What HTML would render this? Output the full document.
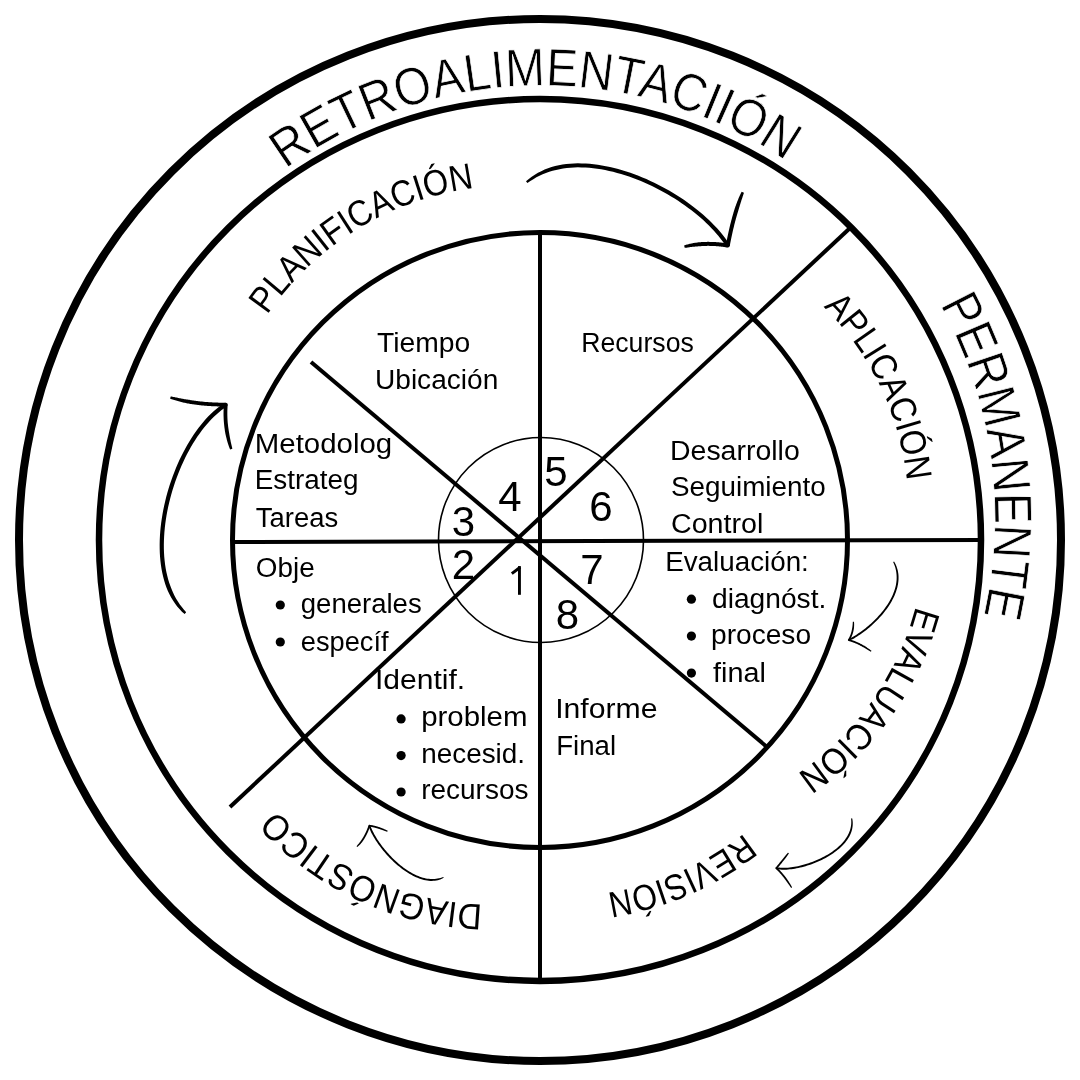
<!DOCTYPE html>
<html><head><meta charset="utf-8"><style>
html,body{margin:0;padding:0;background:#fff;width:1080px;height:1080px;overflow:hidden;}
svg{display:block;will-change:transform;}
#c0,#c1{stroke:#fff;stroke-width:0.7px;}
svg{font-family:"Liberation Sans",sans-serif;}
</style></head><body>
<svg width="1080" height="1080" viewBox="0 0 1080 1080" font-family="Liberation Sans, sans-serif" fill="#000">
<defs><path id="cp0" d="M285.58,169.22 A433.3,433.3 0 0 1 797.62,868.38 A433.3,433.3 0 0 1 285.58,169.22"/><path id="cp1" d="M939.90,304.60 A440.1,440.1 0 0 1 170.10,731.40 A440.1,440.1 0 0 1 939.90,304.60"/><path id="cp2" d="M267.23,315.01 A297,297 0 0 1 757.77,649.99 A297,297 0 0 1 267.23,315.01"/><path id="cp3" d="M823.37,306.92 A286.7,286.7 0 0 1 420.23,714.68 A286.7,286.7 0 0 1 823.37,306.92"/><path id="cp4" d="M915.89,606.37 A292.5,292.5 0 0 1 350.11,457.63 A292.5,292.5 0 0 1 915.89,606.37"/><path id="cp5" d="M743.91,833.45 A294.8,294.8 0 0 1 378.49,370.75 A294.8,294.8 0 0 1 743.91,833.45"/><path id="cp6" d="M482.32,904.39 A289.7,289.7 0 0 1 498.28,325.21 A289.7,289.7 0 0 1 482.32,904.39"/></defs>
<text id="c0" font-size="53" textLength="533.3" lengthAdjust="spacingAndGlyphs"><textPath href="#cp0">RETROALIMENTACIIÓN</textPath></text>
<text id="c1" font-size="53" textLength="321.2" lengthAdjust="spacingAndGlyphs"><textPath href="#cp1">PERMANENTE</textPath></text>
<text id="c2" font-size="36.5" textLength="250.1" lengthAdjust="spacingAndGlyphs"><textPath href="#cp2">PLANIFICACIÓN</textPath></text>
<text id="c3" font-size="36.5" textLength="196.9" lengthAdjust="spacingAndGlyphs"><textPath href="#cp3">APLICACIÓN</textPath></text>
<text id="c4" font-size="36.5" textLength="210.1" lengthAdjust="spacingAndGlyphs"><textPath href="#cp4">EVALUACIÓN</textPath></text>
<text id="c5" font-size="36.5" textLength="150.9" lengthAdjust="spacingAndGlyphs"><textPath href="#cp5">REVISIÓN</textPath></text>
<text id="c6" font-size="36.5" textLength="233.2" lengthAdjust="spacingAndGlyphs"><textPath href="#cp6">DIAGNÓSTICO</textPath></text>
<circle cx="540" cy="540" r="521" fill="none" stroke="#000" stroke-width="8"/>
<circle cx="540" cy="540" r="441" fill="none" stroke="#000" stroke-width="6.5"/>
<circle cx="540" cy="540" r="307.5" fill="none" stroke="#000" stroke-width="5"/>
<circle cx="541" cy="540" r="102.5" fill="none" stroke="#000" stroke-width="1.6"/>
<line x1="540" y1="231" x2="540" y2="984" stroke="#000" stroke-width="4"/>
<line x1="232" y1="542" x2="984" y2="540" stroke="#000" stroke-width="4"/>
<line x1="849" y1="229" x2="230" y2="807" stroke="#000" stroke-width="4"/>
<line x1="311" y1="362" x2="767" y2="747" stroke="#000" stroke-width="4"/>
<text x="556" y="485.6" font-size="42" text-anchor="middle">5</text>
<text x="510" y="511" font-size="42" text-anchor="middle">4</text>
<text x="601" y="521" font-size="42" text-anchor="middle">6</text>
<text x="463.5" y="535.6" font-size="42" text-anchor="middle">3</text>
<text x="463.5" y="579" font-size="42" text-anchor="middle">2</text>
<text x="592" y="584" font-size="42" text-anchor="middle">7</text>
<text x="567.5" y="629" font-size="42" text-anchor="middle">8</text>
<rect x="518" y="566.1" width="2.9" height="28.7"/><path d="M520.2,567.2 L511.8,573.6" stroke="#000" stroke-width="3" fill="none"/>
<text id="h0" x="377.00" y="352.2" font-size="27" textLength="93.23" lengthAdjust="spacingAndGlyphs">Tiempo</text>
<text id="h1" x="375.00" y="389" font-size="27" textLength="123.26" lengthAdjust="spacingAndGlyphs">Ubicación</text>
<text id="h2" x="581.20" y="352.2" font-size="27" textLength="112.61" lengthAdjust="spacingAndGlyphs">Recursos</text>
<text id="h3" x="254.80" y="453" font-size="27" textLength="137.36" lengthAdjust="spacingAndGlyphs">Metodolog</text>
<text id="h4" x="254.80" y="489" font-size="27" textLength="103.68" lengthAdjust="spacingAndGlyphs">Estrateg</text>
<text id="h5" x="255.80" y="526.7" font-size="27" textLength="82.36" lengthAdjust="spacingAndGlyphs">Tareas</text>
<text id="h6" x="670.00" y="460" font-size="27" textLength="129.71" lengthAdjust="spacingAndGlyphs">Desarrollo</text>
<text id="h7" x="671.00" y="496.3" font-size="27" textLength="154.68" lengthAdjust="spacingAndGlyphs">Seguimiento</text>
<text id="h8" x="671.00" y="533.1" font-size="27" textLength="92.33" lengthAdjust="spacingAndGlyphs">Control</text>
<text id="h9" x="255.80" y="576.9" font-size="27" textLength="58.83" lengthAdjust="spacingAndGlyphs">Obje</text>
<text id="h10" x="300.80" y="613.1" font-size="27" textLength="120.86" lengthAdjust="spacingAndGlyphs">generales</text>
<text id="h11" x="300.80" y="650.6" font-size="27" textLength="87.77" lengthAdjust="spacingAndGlyphs">específ</text>
<text id="h12" x="375.00" y="689.4" font-size="27" textLength="90.14" lengthAdjust="spacingAndGlyphs">Identif.</text>
<text id="h13" x="421.20" y="725.6" font-size="27" textLength="106.28" lengthAdjust="spacingAndGlyphs">problem</text>
<text id="h14" x="421.20" y="763" font-size="27" textLength="103.85" lengthAdjust="spacingAndGlyphs">necesid.</text>
<text id="h15" x="421.20" y="799.2" font-size="27" textLength="107.23" lengthAdjust="spacingAndGlyphs">recursos</text>
<text id="h16" x="665.20" y="570.6" font-size="27" textLength="143.63" lengthAdjust="spacingAndGlyphs">Evaluación:</text>
<text id="h17" x="712.00" y="608" font-size="27" textLength="114.35" lengthAdjust="spacingAndGlyphs">diagnóst.</text>
<text id="h18" x="711.00" y="644.2" font-size="27" textLength="100.09" lengthAdjust="spacingAndGlyphs">proceso</text>
<text id="h19" x="713.00" y="681.7" font-size="27" textLength="52.84" lengthAdjust="spacingAndGlyphs">final</text>
<text id="h20" x="555.20" y="718.3" font-size="27" textLength="102.37" lengthAdjust="spacingAndGlyphs">Informe</text>
<text id="h21" x="556.20" y="755.3" font-size="27" textLength="59.92" lengthAdjust="spacingAndGlyphs">Final</text>
<circle cx="280.3" cy="605.0" r="4.6"/>
<circle cx="280.3" cy="642.0" r="4.6"/>
<circle cx="401.1" cy="718.9" r="4.6"/>
<circle cx="401.1" cy="755.6" r="4.6"/>
<circle cx="401.1" cy="792.0" r="4.6"/>
<circle cx="691.4" cy="599.2" r="4.6"/>
<circle cx="691.4" cy="636.1" r="4.6"/>
<circle cx="691.4" cy="673.1" r="4.6"/>
<path d="M527.40,183.05 L530.37,181.05 L533.34,179.13 L536.39,177.36 L539.50,175.75 L542.68,174.30 L545.94,172.99 L549.26,171.84 L552.64,170.84 L556.08,169.97 L559.58,169.19 L563.13,168.55 L566.75,168.06 L570.41,167.69 L574.13,167.46 L577.89,167.36 L581.69,167.39 L585.53,167.54 L589.40,167.81 L593.30,168.21 L597.23,168.71 L601.17,169.33 L605.14,170.06 L609.11,170.90 L613.10,171.84 L617.09,172.89 L621.08,174.03 L625.06,175.26 L629.04,176.59 L633.00,178.01 L636.95,179.51 L640.88,181.10 L644.79,182.77 L648.66,184.51 L652.50,186.33 L656.31,188.22 L660.08,190.17 L663.80,192.20 L667.47,194.28 L671.09,196.42 L674.65,198.62 L678.15,200.87 L681.59,203.16 L684.96,205.51 L688.25,207.89 L691.46,210.32 L694.60,212.78 L697.65,215.28 L700.61,217.81 L703.47,220.36 L706.24,222.94 L708.91,225.54 L711.47,228.15 L713.92,230.78 L716.26,233.42 L718.48,236.07 L720.58,238.72 L722.55,241.37 L724.39,244.02 L726.10,246.66 L729.50,244.54 L727.71,241.79 L725.80,239.03 L723.75,236.28 L721.58,233.54 L719.29,230.81 L716.88,228.09 L714.36,225.39 L711.73,222.71 L709.00,220.04 L706.17,217.40 L703.24,214.79 L700.21,212.21 L697.10,209.66 L693.90,207.15 L690.63,204.68 L687.27,202.25 L683.84,199.86 L680.35,197.52 L676.78,195.23 L673.16,193.00 L669.48,190.82 L665.74,188.70 L661.95,186.64 L658.12,184.65 L654.25,182.73 L650.34,180.88 L646.39,179.10 L642.42,177.41 L638.41,175.79 L634.39,174.26 L630.35,172.81 L626.29,171.46 L622.22,170.19 L618.14,169.03 L614.06,167.96 L609.99,167.00 L605.91,166.14 L601.85,165.39 L597.79,164.75 L593.76,164.23 L589.74,163.83 L585.75,163.55 L581.78,163.39 L577.85,163.36 L573.95,163.47 L570.09,163.71 L566.28,164.08 L562.51,164.60 L558.79,165.27 L555.13,166.08 L551.55,167.10 L548.04,168.28 L544.60,169.62 L541.24,171.13 L537.98,172.81 L534.80,174.65 L531.73,176.67 L528.78,178.88 L526.00,181.35Z"/><path d="M729.77,245.96 L729.96,244.91 L730.16,243.87 L730.35,242.84 L730.55,241.81 L730.75,240.78 L730.96,239.76 L731.16,238.74 L731.37,237.73 L731.58,236.73 L731.79,235.73 L732.01,234.73 L732.22,233.74 L732.44,232.76 L732.66,231.78 L732.88,230.80 L733.10,229.83 L733.33,228.87 L733.56,227.91 L733.79,226.95 L734.02,226.00 L734.25,225.06 L734.49,224.12 L734.73,223.19 L734.97,222.26 L735.21,221.33 L735.45,220.42 L735.70,219.50 L735.95,218.59 L736.20,217.69 L736.45,216.79 L736.71,215.90 L736.96,215.01 L737.22,214.13 L737.48,213.25 L737.74,212.38 L738.01,211.51 L738.27,210.65 L738.54,209.79 L738.80,208.93 L739.05,208.08 L739.30,207.23 L739.55,206.38 L739.81,205.54 L740.06,204.71 L740.32,203.88 L740.58,203.05 L740.84,202.23 L741.10,201.41 L741.36,200.60 L741.63,199.79 L741.89,198.99 L742.16,198.19 L742.42,197.39 L742.69,196.60 L742.95,195.82 L743.21,195.03 L743.47,194.25 L743.72,193.46 L743.91,192.66 L741.69,191.74 L741.26,192.45 L740.88,193.20 L740.52,193.95 L740.16,194.71 L739.81,195.48 L739.47,196.26 L739.13,197.04 L738.80,197.83 L738.47,198.62 L738.14,199.42 L737.81,200.23 L737.49,201.04 L737.17,201.86 L736.86,202.68 L736.54,203.51 L736.23,204.34 L735.93,205.18 L735.62,206.02 L735.32,206.87 L735.02,207.73 L734.73,208.59 L734.46,209.46 L734.18,210.34 L733.92,211.22 L733.65,212.11 L733.38,213.00 L733.12,213.89 L732.86,214.80 L732.60,215.70 L732.35,216.62 L732.09,217.53 L731.84,218.45 L731.59,219.38 L731.34,220.31 L731.10,221.25 L730.85,222.19 L730.61,223.14 L730.37,224.09 L730.14,225.05 L729.90,226.01 L729.67,226.98 L729.44,227.95 L729.21,228.93 L728.98,229.91 L728.76,230.90 L728.53,231.89 L728.31,232.88 L728.10,233.89 L727.88,234.89 L727.67,235.91 L727.45,236.92 L727.24,237.94 L727.04,238.97 L726.83,240.00 L726.63,241.04 L726.42,242.08 L726.23,243.13 L726.03,244.18 L725.83,245.24Z"/><path d="M728.14,243.63 L727.36,243.50 L726.58,243.37 L725.80,243.25 L725.02,243.13 L724.25,243.01 L723.47,242.91 L722.70,242.81 L721.92,242.71 L721.15,242.62 L720.38,242.53 L719.61,242.45 L718.84,242.37 L718.07,242.30 L717.30,242.24 L716.54,242.18 L715.77,242.12 L715.01,242.07 L714.24,242.03 L713.48,241.99 L712.72,241.96 L711.96,241.93 L711.20,241.91 L710.45,241.89 L709.69,241.88 L708.93,241.87 L708.18,241.87 L707.43,241.87 L706.68,241.88 L705.92,241.89 L705.17,241.91 L704.43,241.94 L703.68,241.96 L702.93,242.00 L702.19,242.04 L701.44,242.08 L700.70,242.14 L699.96,242.19 L699.22,242.25 L698.48,242.33 L697.74,242.43 L697.01,242.53 L696.28,242.64 L695.54,242.75 L694.81,242.87 L694.09,242.99 L693.36,243.12 L692.64,243.26 L691.91,243.40 L691.19,243.55 L690.47,243.71 L689.75,243.87 L689.04,244.04 L688.32,244.21 L687.61,244.40 L686.90,244.59 L686.20,244.79 L685.49,245.01 L684.80,245.24 L684.12,245.53 L684.68,247.87 L685.41,247.83 L686.12,247.73 L686.82,247.63 L687.53,247.52 L688.23,247.42 L688.94,247.32 L689.64,247.22 L690.35,247.12 L691.05,247.03 L691.76,246.94 L692.46,246.86 L693.17,246.78 L693.88,246.70 L694.59,246.63 L695.29,246.56 L696.00,246.50 L696.71,246.44 L697.42,246.38 L698.14,246.33 L698.85,246.29 L699.56,246.24 L700.27,246.18 L700.99,246.13 L701.70,246.08 L702.42,246.03 L703.13,245.99 L703.85,245.96 L704.57,245.93 L705.29,245.91 L706.01,245.89 L706.73,245.88 L707.46,245.87 L708.18,245.87 L708.91,245.87 L709.64,245.88 L710.37,245.89 L711.10,245.90 L711.83,245.93 L712.56,245.95 L713.29,245.99 L714.03,246.02 L714.76,246.07 L715.50,246.11 L716.24,246.17 L716.98,246.23 L717.72,246.29 L718.46,246.36 L719.20,246.43 L719.95,246.51 L720.69,246.59 L721.44,246.68 L722.19,246.77 L722.94,246.87 L723.69,246.98 L724.44,247.08 L725.19,247.20 L725.95,247.32 L726.70,247.44 L727.46,247.57Z"/><circle cx="727.8" cy="245.6" r="2.00"/>
<path d="M186.19,612.26 L183.97,609.69 L181.82,607.09 L179.80,604.39 L177.91,601.59 L176.14,598.68 L174.51,595.66 L173.01,592.54 L171.64,589.32 L170.38,586.02 L169.19,582.63 L168.13,579.16 L167.19,575.60 L166.37,571.96 L165.66,568.24 L165.08,564.45 L164.61,560.60 L164.25,556.68 L164.01,552.71 L163.87,548.69 L163.85,544.63 L163.93,540.52 L164.12,536.38 L164.40,532.21 L164.79,528.02 L165.28,523.81 L165.87,519.58 L166.55,515.35 L167.33,511.11 L168.20,506.87 L169.15,502.64 L170.20,498.43 L171.33,494.23 L172.55,490.05 L173.84,485.90 L175.22,481.79 L176.68,477.71 L178.21,473.68 L179.82,469.69 L181.49,465.76 L183.24,461.89 L185.06,458.08 L186.94,454.34 L188.88,450.68 L190.89,447.09 L192.96,443.59 L195.08,440.18 L197.26,436.87 L199.50,433.66 L201.78,430.55 L204.11,427.55 L206.49,424.67 L208.92,421.90 L211.38,419.27 L213.89,416.76 L216.43,414.39 L219.01,412.17 L221.62,410.08 L224.26,408.15 L226.92,406.37 L224.68,402.83 L221.85,404.71 L219.07,406.75 L216.32,408.94 L213.62,411.27 L210.97,413.74 L208.36,416.35 L205.80,419.08 L203.29,421.94 L200.84,424.92 L198.43,428.01 L196.08,431.21 L193.78,434.52 L191.54,437.92 L189.37,441.42 L187.25,445.00 L185.20,448.67 L183.21,452.41 L181.28,456.23 L179.43,460.12 L177.65,464.07 L175.94,468.08 L174.30,472.15 L172.74,476.26 L171.25,480.42 L169.85,484.61 L168.53,488.84 L167.29,493.09 L166.13,497.37 L165.07,501.67 L164.09,505.99 L163.21,510.31 L162.41,514.63 L161.72,518.96 L161.12,523.27 L160.62,527.58 L160.22,531.87 L159.92,536.14 L159.73,540.39 L159.65,544.60 L159.68,548.78 L159.81,552.91 L160.07,557.00 L160.43,561.04 L160.92,565.03 L161.53,568.95 L162.25,572.81 L163.11,576.60 L164.09,580.31 L165.20,583.94 L166.44,587.49 L167.87,590.92 L169.45,594.25 L171.16,597.46 L173.02,600.56 L175.02,603.54 L177.17,606.38 L179.47,609.09 L181.93,611.63 L184.61,613.94Z"/><path d="M225.79,402.70 L224.77,402.70 L223.74,402.70 L222.73,402.70 L221.71,402.69 L220.70,402.67 L219.69,402.65 L218.69,402.63 L217.69,402.61 L216.69,402.57 L215.69,402.54 L214.70,402.50 L213.71,402.46 L212.73,402.41 L211.75,402.36 L210.77,402.30 L209.79,402.24 L208.82,402.18 L207.85,402.11 L206.88,402.03 L205.92,401.96 L204.96,401.88 L204.01,401.79 L203.05,401.70 L202.10,401.61 L201.16,401.51 L200.22,401.41 L199.28,401.30 L198.34,401.19 L197.41,401.07 L196.48,400.96 L195.55,400.83 L194.63,400.70 L193.71,400.57 L192.79,400.44 L191.88,400.30 L190.97,400.15 L190.06,400.00 L189.16,399.85 L188.25,399.71 L187.35,399.57 L186.45,399.43 L185.56,399.28 L184.67,399.13 L183.78,398.98 L182.89,398.82 L182.01,398.66 L181.12,398.49 L180.25,398.33 L179.37,398.16 L178.50,397.98 L177.63,397.80 L176.76,397.62 L175.89,397.44 L175.03,397.26 L174.17,397.07 L173.31,396.89 L172.45,396.70 L171.59,396.53 L170.72,396.41 L170.08,398.59 L170.90,398.96 L171.74,399.26 L172.58,399.55 L173.43,399.82 L174.29,400.09 L175.15,400.35 L176.02,400.61 L176.88,400.86 L177.76,401.10 L178.63,401.33 L179.51,401.57 L180.40,401.79 L181.28,402.01 L182.18,402.23 L183.07,402.44 L183.97,402.65 L184.87,402.85 L185.78,403.04 L186.68,403.23 L187.60,403.42 L188.51,403.60 L189.44,403.75 L190.36,403.90 L191.29,404.05 L192.22,404.19 L193.16,404.33 L194.10,404.47 L195.04,404.60 L195.98,404.72 L196.93,404.84 L197.88,404.96 L198.84,405.07 L199.80,405.18 L200.76,405.29 L201.72,405.39 L202.69,405.48 L203.66,405.58 L204.63,405.66 L205.61,405.74 L206.59,405.82 L207.57,405.90 L208.56,405.97 L209.55,406.03 L210.54,406.09 L211.54,406.15 L212.54,406.20 L213.54,406.25 L214.54,406.30 L215.55,406.34 L216.56,406.37 L217.58,406.40 L218.60,406.43 L219.62,406.45 L220.64,406.47 L221.67,406.49 L222.70,406.50 L223.73,406.50 L224.77,406.50 L225.81,406.50Z"/><path d="M223.91,404.44 L223.85,405.20 L223.79,405.95 L223.74,406.71 L223.70,407.47 L223.66,408.23 L223.62,408.98 L223.60,409.74 L223.57,410.50 L223.56,411.26 L223.54,412.02 L223.54,412.78 L223.53,413.54 L223.54,414.31 L223.55,415.07 L223.56,415.83 L223.58,416.59 L223.61,417.36 L223.64,418.12 L223.67,418.88 L223.71,419.65 L223.76,420.41 L223.81,421.18 L223.87,421.94 L223.93,422.71 L224.00,423.48 L224.07,424.24 L224.15,425.01 L224.23,425.78 L224.32,426.55 L224.41,427.31 L224.51,428.08 L224.62,428.85 L224.73,429.62 L224.84,430.39 L224.96,431.16 L225.09,431.94 L225.22,432.71 L225.35,433.48 L225.51,434.25 L225.68,435.02 L225.85,435.79 L226.03,436.55 L226.22,437.32 L226.41,438.09 L226.61,438.86 L226.82,439.63 L227.03,440.39 L227.24,441.16 L227.46,441.93 L227.69,442.70 L227.93,443.46 L228.17,444.23 L228.42,445.00 L228.67,445.76 L228.94,446.53 L229.21,447.29 L229.50,448.05 L229.80,448.81 L230.16,449.55 L232.34,448.85 L232.21,448.05 L232.04,447.27 L231.85,446.50 L231.67,445.72 L231.49,444.95 L231.31,444.19 L231.13,443.42 L230.96,442.65 L230.79,441.89 L230.63,441.13 L230.47,440.36 L230.31,439.60 L230.16,438.84 L230.01,438.09 L229.86,437.33 L229.73,436.57 L229.59,435.82 L229.46,435.06 L229.34,434.31 L229.22,433.56 L229.09,432.81 L228.96,432.06 L228.84,431.31 L228.71,430.56 L228.60,429.82 L228.49,429.07 L228.38,428.33 L228.28,427.58 L228.18,426.84 L228.09,426.10 L228.01,425.36 L227.93,424.61 L227.85,423.87 L227.78,423.13 L227.71,422.39 L227.65,421.65 L227.60,420.91 L227.55,420.17 L227.51,419.43 L227.47,418.69 L227.43,417.96 L227.40,417.22 L227.38,416.48 L227.36,415.75 L227.35,415.01 L227.34,414.27 L227.33,413.54 L227.34,412.80 L227.34,412.07 L227.35,411.34 L227.37,410.60 L227.39,409.87 L227.42,409.14 L227.45,408.41 L227.49,407.68 L227.53,406.95 L227.58,406.22 L227.64,405.49 L227.69,404.76Z"/><circle cx="225.8" cy="404.6" r="1.90"/>
<path d="M893.14,561.95 L893.80,563.51 L894.42,565.05 L894.96,566.58 L895.43,568.12 L895.81,569.66 L896.12,571.20 L896.35,572.75 L896.51,574.29 L896.61,575.84 L896.65,577.38 L896.63,578.93 L896.54,580.48 L896.38,582.04 L896.15,583.59 L895.87,585.14 L895.52,586.69 L895.11,588.24 L894.65,589.79 L894.13,591.34 L893.55,592.87 L892.92,594.41 L892.25,595.93 L891.52,597.45 L890.74,598.96 L889.92,600.47 L889.06,601.96 L888.15,603.44 L887.21,604.90 L886.23,606.36 L885.21,607.80 L884.15,609.22 L883.07,610.63 L881.95,612.02 L880.81,613.40 L879.63,614.75 L878.44,616.09 L877.22,617.40 L875.97,618.70 L874.71,619.97 L873.44,621.21 L872.14,622.44 L870.84,623.63 L869.52,624.81 L868.19,625.95 L866.85,627.07 L865.51,628.15 L864.16,629.21 L862.81,630.24 L861.47,631.23 L860.12,632.20 L858.77,633.12 L857.44,634.02 L856.10,634.88 L854.78,635.70 L853.47,636.49 L852.17,637.24 L850.89,637.95 L849.63,638.62 L848.38,639.25 L849.22,640.95 L850.50,640.31 L851.80,639.62 L853.11,638.89 L854.43,638.13 L855.77,637.32 L857.12,636.48 L858.48,635.61 L859.84,634.70 L861.21,633.75 L862.58,632.77 L863.95,631.76 L865.33,630.71 L866.69,629.64 L868.06,628.53 L869.42,627.40 L870.77,626.24 L872.11,625.04 L873.44,623.83 L874.75,622.58 L876.05,621.32 L877.33,620.02 L878.60,618.71 L879.84,617.37 L881.06,616.01 L882.25,614.63 L883.42,613.23 L884.56,611.81 L885.67,610.37 L886.75,608.91 L887.79,607.44 L888.79,605.95 L889.76,604.45 L890.69,602.93 L891.58,601.40 L892.42,599.85 L893.22,598.30 L893.97,596.73 L894.67,595.15 L895.32,593.57 L895.92,591.97 L896.46,590.37 L896.94,588.76 L897.37,587.14 L897.73,585.52 L898.03,583.90 L898.26,582.27 L898.43,580.64 L898.53,579.00 L898.55,577.37 L898.50,575.74 L898.36,574.11 L898.12,572.48 L897.81,570.87 L897.42,569.26 L896.93,567.67 L896.37,566.08 L895.71,564.51 L894.95,562.96 L894.06,561.45Z"/><path d="M849.57,640.57 L849.74,640.29 L849.90,640.00 L850.07,639.72 L850.23,639.43 L850.38,639.15 L850.54,638.86 L850.69,638.57 L850.84,638.28 L850.98,637.99 L851.12,637.70 L851.26,637.40 L851.40,637.11 L851.53,636.81 L851.66,636.51 L851.79,636.21 L851.91,635.91 L852.03,635.61 L852.15,635.30 L852.26,635.00 L852.37,634.69 L852.48,634.38 L852.58,634.08 L852.69,633.77 L852.79,633.45 L852.88,633.14 L852.97,632.83 L853.06,632.51 L853.15,632.20 L853.23,631.88 L853.31,631.56 L853.39,631.24 L853.46,630.92 L853.53,630.60 L853.60,630.27 L853.67,629.95 L853.73,629.62 L853.79,629.29 L853.84,628.96 L853.89,628.63 L853.93,628.30 L853.96,627.97 L853.99,627.63 L854.02,627.29 L854.05,626.96 L854.07,626.62 L854.09,626.28 L854.10,625.94 L854.12,625.60 L854.12,625.26 L854.13,624.91 L854.13,624.57 L854.13,624.22 L854.12,623.88 L854.11,623.53 L854.09,623.18 L854.07,622.83 L854.04,622.48 L854.01,622.13 L853.94,621.78 L852.86,621.82 L852.81,622.16 L852.79,622.50 L852.76,622.84 L852.74,623.18 L852.72,623.51 L852.70,623.85 L852.67,624.18 L852.64,624.51 L852.61,624.84 L852.58,625.17 L852.55,625.49 L852.51,625.82 L852.47,626.14 L852.43,626.46 L852.38,626.78 L852.34,627.10 L852.29,627.42 L852.24,627.73 L852.18,628.05 L852.12,628.36 L852.07,628.67 L852.01,628.98 L851.96,629.29 L851.90,629.60 L851.84,629.91 L851.77,630.22 L851.71,630.52 L851.64,630.83 L851.56,631.13 L851.49,631.43 L851.41,631.73 L851.33,632.03 L851.24,632.33 L851.16,632.62 L851.07,632.92 L850.97,633.21 L850.88,633.51 L850.78,633.80 L850.68,634.09 L850.57,634.38 L850.46,634.66 L850.35,634.95 L850.24,635.24 L850.12,635.52 L850.01,635.80 L849.88,636.08 L849.76,636.36 L849.63,636.64 L849.50,636.92 L849.37,637.20 L849.23,637.47 L849.09,637.75 L848.95,638.02 L848.80,638.29 L848.65,638.56 L848.50,638.83 L848.35,639.10 L848.19,639.37 L848.03,639.63Z"/><path d="M848.58,640.97 L848.92,641.06 L849.26,641.15 L849.60,641.25 L849.94,641.34 L850.28,641.45 L850.63,641.55 L850.98,641.66 L851.32,641.77 L851.67,641.89 L852.02,642.00 L852.37,642.13 L852.73,642.25 L853.08,642.38 L853.44,642.51 L853.79,642.65 L854.15,642.79 L854.51,642.93 L854.87,643.08 L855.23,643.23 L855.59,643.38 L855.96,643.54 L856.32,643.70 L856.69,643.86 L857.05,644.03 L857.42,644.20 L857.79,644.37 L858.16,644.55 L858.54,644.73 L858.91,644.91 L859.29,645.10 L859.66,645.29 L860.04,645.48 L860.42,645.68 L860.80,645.88 L861.18,646.09 L861.56,646.30 L861.94,646.51 L862.33,646.72 L862.72,646.93 L863.11,647.15 L863.50,647.36 L863.90,647.58 L864.29,647.81 L864.69,648.03 L865.09,648.26 L865.49,648.49 L865.90,648.73 L866.30,648.97 L866.71,649.21 L867.11,649.45 L867.52,649.70 L867.93,649.95 L868.34,650.21 L868.76,650.46 L869.18,650.72 L869.60,650.98 L870.02,651.24 L870.44,651.50 L870.89,651.74 L871.51,650.86 L871.13,650.52 L870.73,650.21 L870.33,649.90 L869.93,649.60 L869.53,649.31 L869.13,649.02 L868.73,648.74 L868.33,648.46 L867.94,648.18 L867.54,647.91 L867.14,647.64 L866.74,647.37 L866.35,647.11 L865.95,646.85 L865.56,646.60 L865.17,646.35 L864.77,646.10 L864.38,645.86 L863.99,645.62 L863.60,645.38 L863.21,645.15 L862.82,644.93 L862.42,644.72 L862.03,644.50 L861.64,644.30 L861.25,644.09 L860.87,643.89 L860.48,643.69 L860.09,643.49 L859.71,643.30 L859.33,643.11 L858.94,642.93 L858.56,642.74 L858.18,642.56 L857.80,642.39 L857.43,642.22 L857.05,642.05 L856.67,641.89 L856.30,641.72 L855.92,641.57 L855.55,641.41 L855.18,641.26 L854.81,641.11 L854.44,640.97 L854.07,640.83 L853.70,640.69 L853.34,640.56 L852.97,640.43 L852.61,640.30 L852.24,640.18 L851.88,640.06 L851.52,639.94 L851.16,639.83 L850.80,639.72 L850.44,639.62 L850.09,639.51 L849.73,639.41 L849.38,639.32 L849.02,639.23Z"/><circle cx="848.8" cy="640.1" r="0.90"/>
<path d="M851.09,818.39 L851.21,819.99 L851.28,821.54 L851.27,823.08 L851.17,824.59 L850.98,826.08 L850.70,827.54 L850.34,828.99 L849.90,830.42 L849.38,831.82 L848.80,833.22 L848.15,834.60 L847.42,835.96 L846.62,837.30 L845.74,838.62 L844.80,839.92 L843.79,841.20 L842.72,842.46 L841.59,843.69 L840.40,844.90 L839.16,846.09 L837.86,847.25 L836.51,848.39 L835.12,849.50 L833.68,850.58 L832.20,851.64 L830.67,852.67 L829.12,853.67 L827.53,854.64 L825.90,855.58 L824.25,856.49 L822.58,857.37 L820.88,858.22 L819.16,859.03 L817.42,859.82 L815.67,860.57 L813.91,861.29 L812.13,861.97 L810.35,862.62 L808.57,863.23 L806.79,863.80 L805.01,864.34 L803.23,864.85 L801.46,865.31 L799.70,865.74 L797.96,866.13 L796.23,866.48 L794.52,866.79 L792.83,867.06 L791.16,867.29 L789.52,867.48 L787.91,867.63 L786.34,867.73 L784.80,867.79 L783.30,867.82 L781.84,867.79 L780.42,867.73 L779.05,867.62 L777.73,867.46 L776.47,867.26 L776.13,869.14 L777.48,869.35 L778.86,869.51 L780.30,869.62 L781.78,869.69 L783.29,869.72 L784.85,869.69 L786.44,869.63 L788.06,869.52 L789.72,869.37 L791.40,869.17 L793.11,868.94 L794.84,868.66 L796.59,868.34 L798.35,867.99 L800.14,867.59 L801.93,867.15 L803.73,866.68 L805.54,866.17 L807.36,865.62 L809.17,865.03 L810.99,864.41 L812.80,863.75 L814.60,863.05 L816.40,862.32 L818.18,861.56 L819.95,860.76 L821.71,859.93 L823.44,859.06 L825.15,858.16 L826.84,857.23 L828.50,856.27 L830.12,855.28 L831.72,854.25 L833.28,853.20 L834.80,852.11 L836.28,851.00 L837.72,849.86 L839.11,848.68 L840.45,847.48 L841.74,846.26 L842.97,845.00 L844.15,843.72 L845.26,842.40 L846.32,841.07 L847.30,839.70 L848.22,838.31 L849.07,836.90 L849.84,835.46 L850.54,833.99 L851.15,832.50 L851.66,830.98 L852.07,829.44 L852.39,827.87 L852.61,826.30 L852.74,824.70 L852.76,823.09 L852.68,821.47 L852.47,819.84 L852.11,818.21Z"/><path d="M776.99,868.77 L777.23,868.48 L777.47,868.19 L777.71,867.90 L777.95,867.61 L778.18,867.33 L778.42,867.04 L778.65,866.76 L778.88,866.48 L779.12,866.19 L779.35,865.91 L779.57,865.63 L779.80,865.35 L780.03,865.08 L780.25,864.80 L780.48,864.52 L780.70,864.25 L780.92,863.98 L781.14,863.71 L781.36,863.44 L781.58,863.17 L781.80,862.90 L782.02,862.63 L782.23,862.36 L782.45,862.10 L782.66,861.84 L782.87,861.57 L783.08,861.31 L783.29,861.05 L783.50,860.79 L783.71,860.53 L783.91,860.28 L784.12,860.02 L784.32,859.77 L784.52,859.51 L784.72,859.26 L784.92,859.01 L785.12,858.76 L785.32,858.51 L785.51,858.26 L785.70,858.01 L785.89,857.75 L786.07,857.50 L786.25,857.25 L786.43,857.00 L786.62,856.76 L786.79,856.51 L786.97,856.26 L787.15,856.02 L787.32,855.77 L787.49,855.53 L787.67,855.28 L787.84,855.04 L788.00,854.80 L788.17,854.56 L788.33,854.32 L788.49,854.08 L788.65,853.83 L788.80,853.59 L788.93,853.33 L788.07,852.67 L787.85,852.86 L787.66,853.06 L787.46,853.28 L787.27,853.49 L787.07,853.71 L786.88,853.93 L786.69,854.15 L786.49,854.37 L786.30,854.59 L786.11,854.82 L785.91,855.04 L785.71,855.27 L785.52,855.50 L785.32,855.73 L785.12,855.97 L784.92,856.20 L784.72,856.44 L784.52,856.67 L784.32,856.91 L784.11,857.15 L783.91,857.39 L783.71,857.64 L783.52,857.89 L783.32,858.14 L783.12,858.39 L782.91,858.64 L782.71,858.90 L782.51,859.15 L782.30,859.41 L782.09,859.67 L781.89,859.92 L781.68,860.18 L781.47,860.44 L781.26,860.71 L781.05,860.97 L780.83,861.23 L780.62,861.50 L780.40,861.76 L780.18,862.03 L779.97,862.30 L779.75,862.57 L779.53,862.84 L779.31,863.11 L779.08,863.39 L778.86,863.66 L778.63,863.94 L778.41,864.22 L778.18,864.49 L777.95,864.77 L777.72,865.05 L777.49,865.33 L777.26,865.62 L777.03,865.90 L776.79,866.19 L776.56,866.47 L776.32,866.76 L776.08,867.05 L775.85,867.34 L775.61,867.63Z"/><path d="M775.70,868.87 L775.95,869.10 L776.21,869.33 L776.46,869.56 L776.71,869.79 L776.96,870.03 L777.21,870.27 L777.46,870.52 L777.72,870.77 L777.97,871.02 L778.22,871.27 L778.48,871.53 L778.73,871.80 L778.98,872.06 L779.24,872.33 L779.49,872.61 L779.75,872.88 L780.00,873.16 L780.25,873.45 L780.51,873.73 L780.76,874.02 L781.02,874.32 L781.27,874.61 L781.53,874.92 L781.78,875.22 L782.04,875.53 L782.30,875.84 L782.55,876.15 L782.81,876.47 L783.07,876.80 L783.32,877.12 L783.58,877.45 L783.84,877.78 L784.09,878.12 L784.35,878.46 L784.61,878.80 L784.86,879.15 L785.12,879.50 L785.38,879.85 L785.64,880.20 L785.91,880.56 L786.18,880.91 L786.45,881.27 L786.71,881.64 L786.98,882.01 L787.25,882.38 L787.52,882.75 L787.79,883.13 L788.06,883.51 L788.33,883.89 L788.61,884.28 L788.88,884.67 L789.15,885.07 L789.43,885.46 L789.70,885.86 L789.98,886.26 L790.26,886.67 L790.54,887.08 L790.83,887.48 L791.14,887.88 L792.06,887.32 L791.85,886.86 L791.61,886.41 L791.37,885.98 L791.12,885.55 L790.87,885.12 L790.63,884.70 L790.38,884.28 L790.13,883.86 L789.87,883.45 L789.62,883.04 L789.37,882.64 L789.12,882.24 L788.87,881.84 L788.61,881.45 L788.36,881.06 L788.11,880.67 L787.85,880.29 L787.60,879.91 L787.35,879.53 L787.09,879.16 L786.84,878.79 L786.57,878.43 L786.31,878.07 L786.05,877.72 L785.79,877.37 L785.52,877.03 L785.26,876.68 L785.00,876.34 L784.74,876.01 L784.48,875.68 L784.21,875.35 L783.95,875.02 L783.69,874.70 L783.43,874.38 L783.17,874.07 L782.90,873.76 L782.64,873.45 L782.38,873.14 L782.12,872.84 L781.86,872.54 L781.60,872.25 L781.34,871.96 L781.07,871.67 L780.81,871.38 L780.55,871.10 L780.29,870.83 L780.03,870.55 L779.77,870.28 L779.51,870.01 L779.25,869.75 L778.98,869.49 L778.72,869.23 L778.46,868.98 L778.20,868.73 L777.94,868.48 L777.68,868.24 L777.42,868.00 L777.16,867.76 L776.90,867.53Z"/><circle cx="776.3" cy="868.2" r="0.90"/>
<path d="M443.27,876.93 L441.85,877.45 L440.44,877.92 L439.02,878.31 L437.59,878.62 L436.16,878.85 L434.72,879.00 L433.26,879.07 L431.80,879.07 L430.33,878.99 L428.85,878.87 L427.36,878.68 L425.86,878.41 L424.35,878.08 L422.84,877.68 L421.33,877.22 L419.81,876.69 L418.29,876.11 L416.77,875.46 L415.25,874.76 L413.73,874.01 L412.22,873.20 L410.71,872.35 L409.21,871.44 L407.71,870.49 L406.23,869.50 L404.75,868.47 L403.29,867.39 L401.84,866.28 L400.40,865.13 L398.98,863.96 L397.58,862.75 L396.20,861.51 L394.83,860.24 L393.48,858.96 L392.16,857.65 L390.86,856.32 L389.59,854.97 L388.34,853.61 L387.12,852.23 L385.92,850.85 L384.76,849.45 L383.63,848.05 L382.53,846.64 L381.46,845.24 L380.42,843.83 L379.43,842.42 L378.47,841.02 L377.55,839.63 L376.66,838.24 L375.82,836.87 L375.02,835.51 L374.27,834.16 L373.56,832.84 L372.89,831.53 L372.28,830.25 L371.71,828.99 L371.19,827.76 L370.72,826.56 L370.30,825.39 L368.50,826.01 L368.94,827.23 L369.43,828.48 L369.97,829.75 L370.55,831.05 L371.19,832.38 L371.87,833.72 L372.60,835.08 L373.38,836.46 L374.19,837.85 L375.05,839.25 L375.95,840.66 L376.89,842.08 L377.87,843.51 L378.88,844.94 L379.93,846.37 L381.02,847.80 L382.14,849.23 L383.29,850.66 L384.47,852.08 L385.69,853.48 L386.93,854.88 L388.20,856.27 L389.49,857.63 L390.81,858.99 L392.16,860.32 L393.53,861.63 L394.92,862.91 L396.33,864.17 L397.76,865.41 L399.20,866.61 L400.67,867.78 L402.15,868.91 L403.64,870.01 L405.15,871.07 L406.67,872.08 L408.21,873.06 L409.75,873.99 L411.30,874.87 L412.86,875.70 L414.43,876.48 L416.00,877.20 L417.58,877.87 L419.16,878.48 L420.74,879.02 L422.32,879.51 L423.91,879.93 L425.49,880.28 L427.07,880.55 L428.65,880.76 L430.22,880.89 L431.79,880.92 L433.34,880.86 L434.89,880.71 L436.42,880.48 L437.93,880.16 L439.42,879.75 L440.89,879.24 L442.34,878.62 L443.73,877.87Z"/><path d="M369.28,826.59 L369.54,826.63 L369.80,826.66 L370.06,826.70 L370.32,826.74 L370.59,826.78 L370.85,826.83 L371.12,826.87 L371.39,826.92 L371.66,826.97 L371.93,827.03 L372.20,827.08 L372.48,827.14 L372.75,827.20 L373.03,827.26 L373.31,827.32 L373.59,827.38 L373.87,827.45 L374.16,827.52 L374.44,827.59 L374.73,827.66 L375.02,827.74 L375.31,827.82 L375.60,827.89 L375.89,827.98 L376.19,828.06 L376.48,828.14 L376.78,828.23 L377.08,828.32 L377.38,828.41 L377.69,828.51 L377.99,828.60 L378.30,828.70 L378.60,828.80 L378.91,828.90 L379.22,829.01 L379.53,829.11 L379.85,829.22 L380.16,829.33 L380.48,829.44 L380.80,829.54 L381.13,829.65 L381.45,829.75 L381.78,829.86 L382.11,829.98 L382.44,830.09 L382.77,830.20 L383.10,830.32 L383.44,830.44 L383.78,830.56 L384.12,830.68 L384.46,830.81 L384.80,830.93 L385.15,831.06 L385.49,831.18 L385.84,831.31 L386.20,831.44 L386.55,831.57 L386.91,831.69 L387.28,831.79 L387.72,830.81 L387.39,830.60 L387.05,830.42 L386.71,830.24 L386.37,830.07 L386.04,829.91 L385.70,829.75 L385.36,829.59 L385.02,829.43 L384.69,829.28 L384.35,829.13 L384.02,828.98 L383.69,828.83 L383.36,828.69 L383.03,828.55 L382.70,828.41 L382.38,828.28 L382.05,828.14 L381.73,828.01 L381.40,827.88 L381.08,827.75 L380.76,827.63 L380.44,827.52 L380.12,827.41 L379.80,827.30 L379.48,827.19 L379.16,827.09 L378.85,826.99 L378.53,826.89 L378.22,826.79 L377.91,826.69 L377.60,826.60 L377.29,826.51 L376.99,826.42 L376.68,826.33 L376.38,826.24 L376.08,826.16 L375.77,826.08 L375.48,826.00 L375.18,825.92 L374.88,825.84 L374.59,825.77 L374.29,825.70 L374.00,825.63 L373.71,825.56 L373.42,825.50 L373.13,825.44 L372.84,825.37 L372.56,825.32 L372.28,825.26 L371.99,825.20 L371.71,825.15 L371.43,825.10 L371.15,825.05 L370.88,825.01 L370.60,824.96 L370.33,824.92 L370.06,824.88 L369.78,824.84 L369.52,824.81Z"/><path d="M368.55,825.41 L368.39,825.87 L368.23,826.32 L368.06,826.77 L367.90,827.22 L367.73,827.66 L367.56,828.10 L367.39,828.54 L367.22,828.97 L367.05,829.40 L366.87,829.83 L366.70,830.25 L366.52,830.66 L366.34,831.08 L366.16,831.49 L365.97,831.89 L365.79,832.29 L365.60,832.69 L365.41,833.08 L365.22,833.47 L365.03,833.86 L364.84,834.24 L364.64,834.62 L364.45,835.00 L364.25,835.37 L364.05,835.73 L363.85,836.10 L363.64,836.46 L363.44,836.81 L363.23,837.16 L363.02,837.51 L362.81,837.86 L362.60,838.20 L362.39,838.53 L362.18,838.86 L361.96,839.19 L361.74,839.52 L361.52,839.84 L361.30,840.16 L361.08,840.47 L360.87,840.79 L360.65,841.10 L360.43,841.41 L360.21,841.72 L359.99,842.02 L359.77,842.32 L359.54,842.61 L359.32,842.90 L359.09,843.19 L358.86,843.48 L358.63,843.76 L358.40,844.04 L358.16,844.31 L357.93,844.59 L357.69,844.86 L357.46,845.12 L357.22,845.39 L356.99,845.66 L356.75,845.92 L356.53,846.20 L357.27,847.00 L357.57,846.79 L357.86,846.56 L358.14,846.32 L358.42,846.08 L358.69,845.82 L358.96,845.57 L359.23,845.31 L359.50,845.04 L359.76,844.77 L360.02,844.50 L360.28,844.22 L360.54,843.93 L360.80,843.65 L361.05,843.35 L361.30,843.06 L361.55,842.76 L361.80,842.45 L362.05,842.14 L362.29,841.83 L362.54,841.51 L362.77,841.19 L363.00,840.86 L363.23,840.53 L363.46,840.19 L363.68,839.85 L363.91,839.50 L364.13,839.15 L364.35,838.80 L364.56,838.44 L364.78,838.08 L364.99,837.72 L365.21,837.35 L365.42,836.98 L365.62,836.60 L365.83,836.22 L366.04,835.84 L366.24,835.45 L366.44,835.06 L366.64,834.67 L366.84,834.27 L367.03,833.87 L367.23,833.46 L367.42,833.05 L367.61,832.64 L367.80,832.22 L367.98,831.80 L368.17,831.38 L368.35,830.95 L368.53,830.52 L368.71,830.08 L368.89,829.64 L369.07,829.20 L369.24,828.75 L369.41,828.30 L369.59,827.85 L369.75,827.39 L369.92,826.93 L370.09,826.46 L370.25,825.99Z"/><circle cx="369.4" cy="825.7" r="0.90"/>
</svg>
</body></html>
